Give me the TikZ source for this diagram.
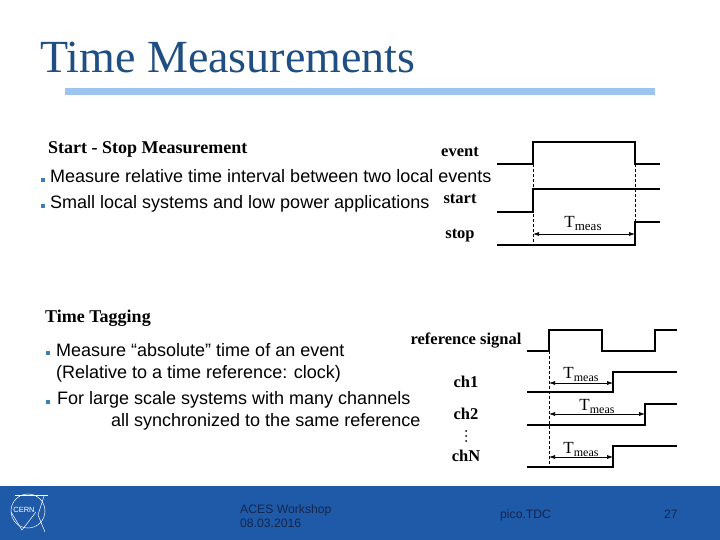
\documentclass[tikz,border=0pt]{standalone}
\usepackage{fontspec}
\setmainfont{Liberation Serif}
\setsansfont{Liberation Sans}
\usepackage{tikz}
\usetikzlibrary{arrows.meta}
\definecolor{slideblue}{HTML}{1F5AA8}
\definecolor{titleblue}{HTML}{1F4E82}
\definecolor{rulecolor}{HTML}{9CC4EE}
\definecolor{footertext}{HTML}{14264F}
\definecolor{bulletcolor}{HTML}{3F7FB5}

\begin{document}
\begin{tikzpicture}[x=1pt, y=-1pt]
        \tikzset{TitleStyle/.style={anchor=base west, inner sep=0pt, text=titleblue, font=\fontsize{46}{46}\selectfont}}
        \tikzset{HeadStyle/.style={anchor=base west, inner sep=0pt, font=\fontsize{18}{18}\selectfont\bfseries}}
        \tikzset{BodyStyle/.style={anchor=base west, inner sep=0pt, font=\sffamily\fontsize{18}{18}\selectfont}}
        \tikzset{FootStyle/.style={anchor=base west, inner sep=0pt, text=footertext, font=\sffamily\fontsize{12.2}{12.2}\selectfont}}
        \tikzset{SigLabel/.style={anchor=base, inner sep=0pt, font=\fontsize{16.5}{16.5}\selectfont\bfseries}}
        \tikzset{MeasLabel/.style={anchor=base, inner sep=0pt, font=\fontsize{17}{17}\selectfont}}
        \tikzset{Bullet/.style={fill=bulletcolor, inner sep=0pt, minimum size=3.5pt}}
        \tikzset{ChDot/.style={circle, fill=black, inner sep=0pt, minimum size=2pt}}
        \tikzset{Signal/.style={line width=1.7pt, line join=miter}}
        \tikzset{Guide/.style={densely dashed, line width=0.5pt}}
        \tikzset{Span/.style={{Latex[length=6pt, width=4pt]}-{Latex[length=6pt, width=4pt]}, line width=0.6pt}}
        \useasboundingbox (0,0) rectangle (720,540);
        \fill[white] (0,0) rectangle (720,540);
        % title
        \node[TitleStyle] (title) at (40,73) {Time Measurements};
        \fill[rulecolor] (65,88) rectangle (655,95);
        % start stop part
        \node[HeadStyle] (startstop) at (48,154) {Start - Stop Measurement};
        \node[Bullet] (b1) at (43,180) {};
        \node[BodyStyle] (m1) at (50,183) {Measure relative time interval between two local events};
        \node[Bullet] (b2) at (43,206) {};
        \node[BodyStyle] (m2) at (50,209) {Small local systems and low power applications};
        \node[SigLabel] (event) at (460,157) {event};
        \node[SigLabel] (start) at (460,204) {start};
        \node[SigLabel] (stop) at (460,238) {stop};
        \draw[Signal] (497,164) -- (533,164) -- (533,142) -- (635,142) -- (635,164) -- (660,164);
        \draw[Signal] (497,212) -- (533,212) -- (533,189) -- (660,189);
        \draw[Signal] (497,245) -- (635,245) -- (635,222) -- (660,222);
        \coordinate (evUp) at (533,164);
        \coordinate (evDown) at (635,164);
        \coordinate (stopLeft) at (533,245);
        \coordinate (stopUp) at (635,245);
        \draw[Guide] (evUp) -- (stopLeft);
        \draw[Guide] (evDown) -- (stopUp);
        \coordinate (spanL) at (533,234);
        \coordinate (spanR) at (635,234);
        \draw[Span] (spanL) -- (spanR);
        \node[MeasLabel] (tmeas) at (583,227) {T\raisebox{-3pt}{\fontsize{13}{13}\selectfont meas}};
        % time tagging part
        \node[HeadStyle] (tagging) at (45,322) {Time Tagging};
        \node[Bullet] (b3) at (48,353) {};
        \node[BodyStyle] (t1) at (56,356) {Measure “absolute” time of an event};
        \node[BodyStyle] (t2) at (56,378) {(Relative to a time reference: clock)};
        \node[Bullet] (b4) at (48,402) {};
        \node[BodyStyle] (t3) at (57,404) {For large scale systems with many channels};
        \node[BodyStyle] (t4) at (111,426) {all synchronized to the same reference};
        \node[SigLabel] (refsig) at (466,344) {reference signal};
        \node[SigLabel] (ch1) at (466,387) {ch1};
        \node[SigLabel] (ch2) at (466,419) {ch2};
        \node[SigLabel] (chN) at (466,461) {chN};
        \node[ChDot] (dotA) at (466,431) {};
        \node[ChDot] (dotB) at (466,436) {};
        \node[ChDot] (dotC) at (466,441) {};
        \draw[Signal] (527,351) -- (549,351) -- (549,330) -- (602,330) -- (602,351) -- (655,351) -- (655,330) -- (677,330);
        \draw[Signal] (527,392) -- (613,392) -- (613,372) -- (677,372);
        \draw[Signal] (527,425) -- (645,425) -- (645,404) -- (677,404);
        \draw[Signal] (527,467) -- (613,467) -- (613,446) -- (677,446);
        \coordinate (refUp) at (549,351);
        \coordinate (chNLeft) at (549,467);
        \draw[Guide] (refUp) -- (chNLeft);
        \coordinate (s1L) at (549,383);
        \coordinate (s1R) at (613,383);
        \coordinate (s2L) at (549,414);
        \coordinate (s2R) at (645,414);
        \coordinate (s3L) at (549,457);
        \coordinate (s3R) at (613,457);
        \draw[Span] (s1L) -- (s1R);
        \draw[Span] (s2L) -- (s2R);
        \draw[Span] (s3L) -- (s3R);
        \node[MeasLabel] (tm1) at (581,378) {T\raisebox{-3pt}{\fontsize{12}{12}\selectfont meas}};
        \node[MeasLabel] (tm2) at (597,410) {T\raisebox{-3pt}{\fontsize{12}{12}\selectfont meas}};
        \node[MeasLabel] (tm3) at (581,453) {T\raisebox{-3pt}{\fontsize{12}{12}\selectfont meas}};
        % footer
        \fill[slideblue] (0,486) rectangle (720,540);
        \draw[white, line width=0.5pt] (28,511) circle (17);
        \draw[white, line width=0.5pt] (15,495) -- (48,495);
        \draw[white, line width=0.5pt] (44,496) -- (38,515) -- (45,532);
        \draw[white, line width=0.5pt] (11,512) -- (22,530) -- (36,512);
        \node[anchor=base, inner sep=0pt, text=white, font=\sffamily\fontsize{7.5}{7.5}\selectfont] (cern) at (24,512) {CERN};
        \node[FootStyle] (aces) at (240,513) {ACES Workshop};
        \node[FootStyle] (date) at (240,527) {08.03.2016};
        \node[FootStyle] (pico) at (500,518) {pico.TDC};
        \node[FootStyle] (page) at (664,518) {27};
    \end{tikzpicture}
\end{document}
